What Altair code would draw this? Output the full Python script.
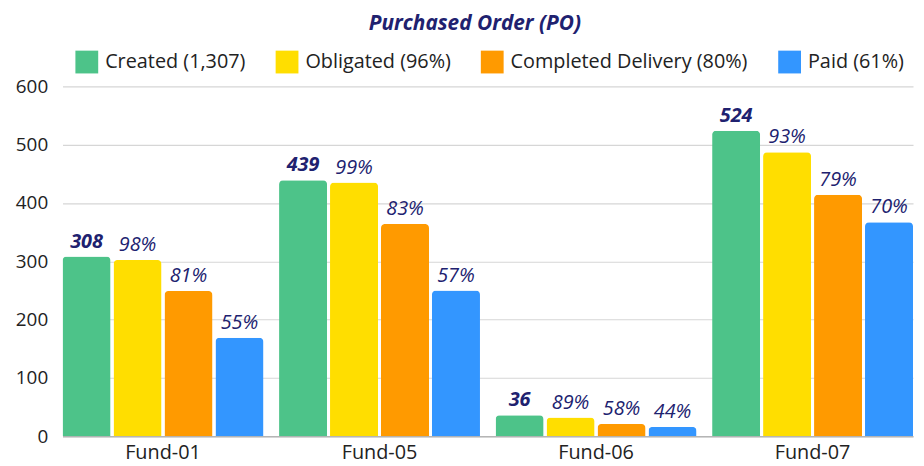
import altair as alt
import pandas as pd

funds = ["Fund-01", "Fund-05", "Fund-06", "Fund-07"]
series = ["Created (1,307)", "Obligated (96%)", "Completed Delivery (80%)", "Paid (61%)"]
colors = ["#4DC389", "#FFDE00", "#FF9A00", "#3396FF"]

created = [308, 439, 36, 524]
obligated = [302, 435, 32, 487]
delivered = [249, 364, 21, 414]
paid = [169, 250, 16, 367]

obligated_lbl = ["98%", "99%", "89%", "93%"]
delivered_lbl = ["81%", "83%", "58%", "79%"]
paid_lbl = ["55%", "57%", "44%", "70%"]

rows = []
for i, f in enumerate(funds):
    rows.append({"fund": f, "series": series[0], "order": 0, "value": created[i], "label": str(created[i])})
    rows.append({"fund": f, "series": series[1], "order": 1, "value": obligated[i], "label": obligated_lbl[i]})
    rows.append({"fund": f, "series": series[2], "order": 2, "value": delivered[i], "label": delivered_lbl[i]})
    rows.append({"fund": f, "series": series[3], "order": 3, "value": paid[i], "label": paid_lbl[i]})
df = pd.DataFrame(rows)

FONT = "Open Sans"
NAVY = "#20216F"

x = alt.X("fund:N", sort=funds, title=None,
          scale=alt.Scale(paddingInner=0.072, paddingOuter=0),
          axis=alt.Axis(labelAngle=0, labelFontSize=20, labelFont=FONT, labelColor="#222222",
                        domainColor="#b5b5b5", domainWidth=1.5, ticks=False, labelPadding=6))
xo = alt.XOffset("series:N", sort=series,
                 scale=alt.Scale(paddingInner=0.058, paddingOuter=0))
y = alt.Y("value:Q", title=None,
          scale=alt.Scale(domain=[0, 600]),
          axis=alt.Axis(values=[0, 100, 200, 300, 400, 500, 600], labelFontSize=19, labelFont=FONT,
                        labelColor="#222222", domain=False, ticks=False, labelPadding=15,
                        gridColor="#d6d6d6", gridWidth=1.2))

base = alt.Chart(df)

bars = base.mark_bar(cornerRadiusTopLeft=4, cornerRadiusTopRight=4).encode(
    x=x, xOffset=xo, y=y,
    color=alt.Color("series:N", sort=series,
                    scale=alt.Scale(domain=series, range=colors),
                    legend=alt.Legend(title=None, orient="none", direction="horizontal",
                                      legendX=13, legendY=-36,
                                      symbolType="square", symbolSize=529, symbolStrokeWidth=0,
                                      symbolOpacity=1, labelLimit=0,
                                      labelFontSize=20, labelFont=FONT, labelColor="#222222",
                                      labelOffset=7, columnPadding=30)),
)

lbl_created = base.transform_filter(alt.datum.order == 0).mark_text(
    baseline="bottom", dy=-5, fontSize=20, font=FONT, fontStyle="italic", fontWeight="bold", color=NAVY
).encode(x=x, xOffset=xo, y=y, text="label:N")

lbl_other = base.transform_filter(alt.datum.order > 0).mark_text(
    baseline="bottom", dy=-5, fontSize=20, font=FONT, fontStyle="italic", fontWeight="normal", color=NAVY
).encode(x=x, xOffset=xo, y=y, text="label:N")

chart = alt.layer(bars, lbl_created, lbl_other).properties(
    width=858, height=353,
    autosize=alt.AutoSizeParams(type="none"),
    padding={"left": 55, "top": 77, "right": 3, "bottom": 28},
    title=alt.Title("Purchased Order (PO)", fontSize=21, font=FONT, fontStyle="italic",
                    fontWeight="bold", color=NAVY, anchor="middle", frame="group", dx=-13,
                    offset=17),
).configure_view(stroke=None)

chart.save("out.html", embed_options={"renderer": "svg", "actions": False})
